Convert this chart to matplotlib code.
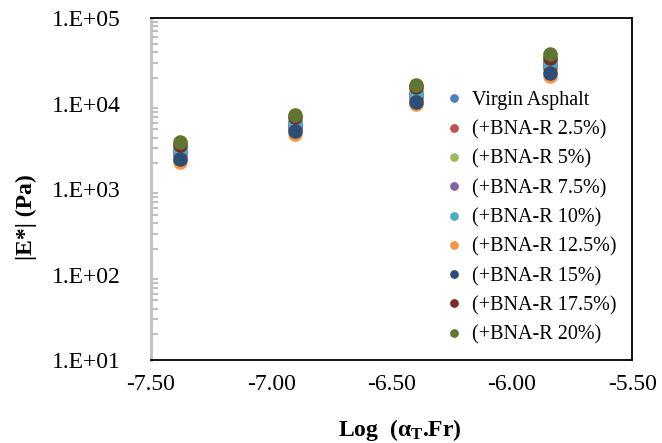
import math
import matplotlib
matplotlib.use("Agg")
import matplotlib.pyplot as plt
from matplotlib.ticker import FixedLocator, FuncFormatter, LogLocator, NullFormatter

plt.rcParams['font.family'] = ['Liberation Serif', 'DejaVu Serif']
plt.rcParams['mathtext.fontset'] = 'custom'
plt.rcParams['mathtext.rm'] = 'Liberation Serif'
plt.rcParams['mathtext.it'] = 'Liberation Serif:italic'
plt.rcParams['mathtext.bf'] = 'Liberation Serif:bold'

# log(aT.Fr) positions of the four frequencies
x_vals = [-7.38, -6.90, -6.40, -5.84]

series_names = [
    "Virgin Asphalt", "(+BNA-R 2.5%)", "(+BNA-R 5%)", "(+BNA-R 7.5%)",
    "(+BNA-R 10%)", "(+BNA-R 12.5%)", "(+BNA-R 15%)", "(+BNA-R 17.5%)",
    "(+BNA-R 20%)",
]
series_colors = [
    "#4F81BD", "#C0504D", "#9BBB59", "#8064A2", "#4BACC6",
    "#F79646", "#2C4D75", "#772C2A", "#5F7530",
]

# |E*| (Pa)
virgin = [2700, 5600, 12500, 28000]
bna_2_5 = [2500, 5200, 11600, 26000]
bna_5 = [3000, 6300, 14000, 31500]
bna_7_5 = [2800, 5900, 13000, 29500]
bna_10 = [2900, 6000, 13400, 30000]
bna_12_5 = [2080, 4400, 9800, 20800]
bna_15 = [2250, 4800, 10400, 23000]
bna_17_5 = [3300, 6900, 15500, 34500]
bna_20 = [3600, 7400, 16700, 38000]
series_values = [virgin, bna_2_5, bna_5, bna_7_5, bna_10,
                 bna_12_5, bna_15, bna_17_5, bna_20]

fig = plt.figure(figsize=(6.62, 4.43), dpi=100)
ax = fig.add_axes([0.228, 0.187, 0.727, 0.772])

for name, col, vals in zip(series_names, series_colors, series_values):
    ax.plot(x_vals, vals, linestyle='none', marker='o', markersize=10.5,
            color=col, markeredgewidth=0, label=name)

ax.set_yscale('log')
ax.set_ylim(10, 1e5)
ax.set_xlim(-7.5, -5.5)
ax.xaxis.set_major_locator(FixedLocator([-7.5, -7.0, -6.5, -6.0, -5.5]))
ax.xaxis.set_major_formatter(FuncFormatter(lambda v, p: f"{v:.2f}"))
ax.yaxis.set_major_formatter(FuncFormatter(lambda v, p: "1.E+%02d" % round(math.log10(v))))
ax.yaxis.set_minor_locator(LogLocator(base=10, subs=range(2, 10)))
ax.yaxis.set_minor_formatter(NullFormatter())

ax.tick_params(axis='x', length=0, labelsize=17, pad=10)
ax.tick_params(axis='y', which='major', length=0, labelsize=17, pad=22)
ax.tick_params(axis='y', which='minor', direction='in', length=5,
               width=1.5, color='#BFBFBF')

for s in ['top', 'right', 'bottom']:
    ax.spines[s].set_color('black')
    ax.spines[s].set_linewidth(1.3)
ax.spines['left'].set_color('#BFBFBF')
ax.spines['left'].set_linewidth(2)

ax.set_ylabel('|E*| (Pa)', fontsize=17, fontweight='bold', va='center')
ax.yaxis.set_label_coords(-0.258, 0.418)
ax.set_xlabel(r'Log  (α$_\mathbf{T}$.Fr)', fontsize=17, fontweight='bold',
              va='center')
ax.xaxis.set_label_coords(0.518, -0.205)

ax.legend(loc='upper left', bbox_to_anchor=(0.6, 0.81), frameon=False,
          fontsize=14.5, handlelength=0.6, handletextpad=0.6,
          labelspacing=0.5, markerscale=0.6, borderaxespad=0)

fig.savefig('out.png', dpi=100)
